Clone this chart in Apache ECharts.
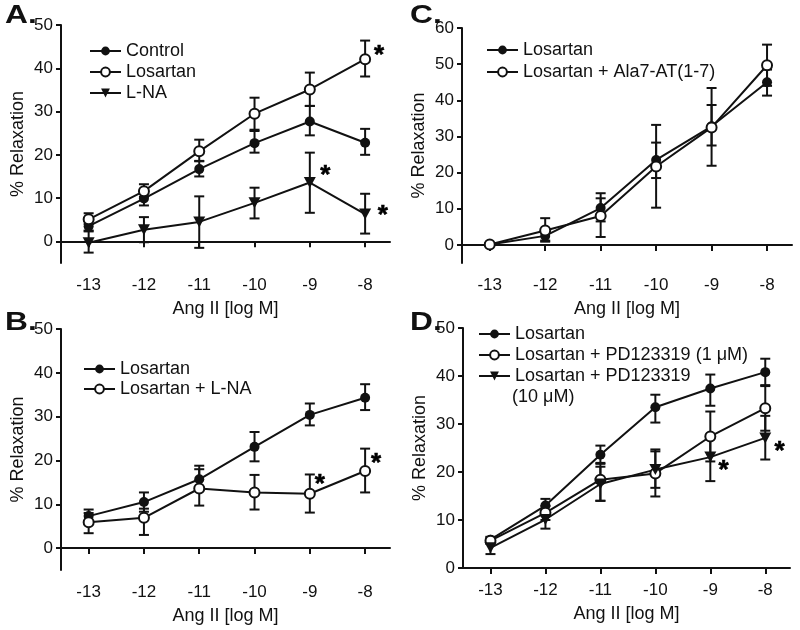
<!DOCTYPE html>
<html><head><meta charset="utf-8">
<script src="https://cdn.jsdelivr.net/npm/echarts@6/dist/echarts.min.js"></script>
<style>html,body{margin:0;padding:0;background:#fff}#c{width:800px;height:630px}</style>
</head><body><div id="c"></div>
<script>
const xs = [-13, -12, -11, -10, -9, -8];
const xTicks = [-13, -12, -11, -10, -9, -8];
const yTicksA = [0, 10, 20, 30, 40, 50];
const yTicksB = [0, 10, 20, 30, 40, 50];
const yTicksC = [0, 10, 20, 30, 40, 50, 60];
const yTicksD = [0, 10, 20, 30, 40, 50];

// Panel A
const A_control = [3.5, 9.9, 16.7, 22.7, 27.7, 22.8];
const A_control_lo = [2.5, 8.3, 15.0, 20.5, 24.5, 20.0];
const A_control_hi = [4.8, 11.5, 18.6, 25.5, 31.3, 26.0];
const A_losartan = [5.1, 11.6, 20.8, 29.5, 35.1, 42.1];
const A_losartan_lo = [4.0, 10.3, 18.5, 25.8, 31.3, 38.1];
const A_losartan_hi = [6.5, 13.2, 23.5, 33.2, 39.0, 46.4];
const A_lna = [-0.3, 2.7, 4.5, 8.9, 13.6, 6.3];
const A_lna_lo = [-2.6, -0.2, -1.5, 5.3, 6.6, 1.8];
const A_lna_hi = [2.3, 5.6, 10.4, 12.4, 20.5, 11.0];
const A_stars = [[-7.75, 44.2], [-8.72, 16.6], [-7.68, 7.4]];

// Panel B
const B_losartan = [7.3, 10.5, 15.7, 23.1, 30.4, 34.3];
const B_losartan_lo = [6.0, 8.3, 13.2, 19.8, 28.0, 31.5];
const B_losartan_hi = [8.8, 12.7, 18.8, 26.5, 33.0, 37.4];
const B_lna = [5.9, 6.9, 13.6, 12.7, 12.4, 17.6];
const B_lna_lo = [3.4, 3.0, 9.7, 8.8, 8.1, 12.7];
const B_lna_hi = [8.0, 9.0, 18.0, 16.7, 16.8, 22.7];
const B_stars = [[-8.82, 15.7], [-7.8, 20.7]];

// Panel C
const C_losartan = [0.1, 2.5, 10.2, 23.5, 32.8, 45.0];
const C_losartan_lo = [-0.3, 0.9, 6.5, 18.5, 27.5, 41.3];
const C_losartan_hi = [0.5, 4.0, 14.3, 28.3, 38.7, 48.5];
const C_ala = [0.1, 4.0, 8.0, 21.7, 32.5, 49.7];
const C_ala_lo = [-0.3, 1.2, 2.2, 10.3, 21.9, 44.0];
const C_ala_hi = [0.5, 7.4, 12.9, 33.2, 43.4, 55.4];

// Panel D
const D_losartan = [5.9, 13.0, 23.6, 33.5, 37.4, 40.8];
const D_losartan_lo = [5.2, 11.8, 21.7, 30.3, 33.8, 38.1];
const D_losartan_hi = [6.5, 14.4, 25.5, 36.1, 40.3, 43.6];
const D_pd1 = [5.7, 11.5, 18.4, 19.7, 27.4, 33.3];
const D_pd1_lo = [5.0, 10.0, 14.0, 14.9, 22.2, 28.6];
const D_pd1_hi = [6.4, 12.9, 21.9, 24.7, 32.6, 37.9];
const D_pd10 = [4.2, 10.1, 17.5, 20.5, 23.1, 27.1];
const D_pd10_lo = [2.9, 8.2, 14.0, 16.7, 18.1, 22.6];
const D_pd10_hi = [5.5, 11.6, 21.1, 24.3, 27.8, 31.7];
const D_stars = [[-8.76, 21.5], [-7.74, 25.4]];

const INK = '#111';
const FONT = 'Liberation Sans, Arial, Helvetica, sans-serif';

function pts(vals) { return xs.map((x, i) => [x, vals[i]]); }
function errData(lo, hi) { return xs.map((x, i) => [x, lo[i], hi[i]]); }

function lineSeries(name, idx, vals, kind) {
  return {
    type: 'line', name: name, xAxisIndex: idx, yAxisIndex: idx,
    data: pts(vals), symbol: kind === 'tri' ? 'path://M0,0 L10,0 L5,9 Z' : 'circle',
    symbolSize: kind === 'tri' ? [12, 11] : 10,
    showAllSymbol: true, z: 5,
    lineStyle: { color: INK, width: 2 },
    itemStyle: { color: kind === 'open' ? '#fff' : INK, borderColor: INK, borderWidth: kind === 'open' ? 2 : 0 },
    emphasis: { disabled: true }, animation: false
  };
}
let errCount = 0;
function errSeries(idx, lo, hi) {
  errCount++;
  return {
    type: 'custom', name: 'err-' + errCount, xAxisIndex: idx, yAxisIndex: idx,
    data: errData(lo, hi), z: 4, animation: false, silent: true,
    encode: { x: 0, y: [1, 2] },
    renderItem: function (params, api) {
      const x = api.value(0);
      const p1 = api.coord([x, api.value(1)]);
      const p2 = api.coord([x, api.value(2)]);
      const w = 5, st = { stroke: INK, lineWidth: 2 };
      return { type: 'group', children: [
        { type: 'line', shape: { x1: p1[0], y1: p1[1], x2: p2[0], y2: p2[1] }, style: st },
        { type: 'line', shape: { x1: p1[0] - w, y1: p1[1], x2: p1[0] + w, y2: p1[1] }, style: st },
        { type: 'line', shape: { x1: p2[0] - w, y1: p2[1], x2: p2[0] + w, y2: p2[1] }, style: st }
      ]};
    }
  };
}
function starSeries(idx, stars) {
  return {
    type: 'scatter', name: 'stars-' + idx, xAxisIndex: idx, yAxisIndex: idx,
    data: stars, symbol: 'circle', symbolSize: 1, itemStyle: { color: 'rgba(0,0,0,0)' }, silent: true, z: 6, animation: false,
    label: { show: true, position: 'inside', formatter: '*', fontSize: 26, fontWeight: 'bold', opacity: 1,
      color: '#000', textBorderColor: '#000', textBorderWidth: 0.6, fontFamily: FONT, offset: [0, 6] }
  };
}
function xAxis(idx) {
  return {
    type: 'value', gridIndex: idx, min: -13.5, max: -7.55,
    name: 'Ang II [log M]', nameLocation: 'middle', nameGap: 37,
    nameTextStyle: { fontSize: 18, color: INK, fontFamily: FONT },
    axisLine: { show: true, lineStyle: { color: INK, width: 2 } },
    axisTick: { show: true, customValues: xTicks, length: 6, lineStyle: { color: INK, width: 2 } },
    axisLabel: { customValues: xTicks, fontSize: 17, color: INK, fontFamily: FONT, margin: 14 },
    splitLine: { show: false }
  };
}
function yAxis(idx, min, max, ticks) {
  return {
    type: 'value', gridIndex: idx, min: min, max: max,
    name: '% Relaxation', nameLocation: 'middle', nameGap: 34, nameRotate: 90,
    nameTextStyle: { fontSize: 18, color: INK, fontFamily: FONT },
    axisLine: { show: true, lineStyle: { color: INK, width: 2 } },
    axisTick: { show: true, customValues: ticks, length: 5, lineStyle: { color: INK, width: 2 } },
    axisLabel: { customValues: ticks, fontSize: 17, color: INK, fontFamily: FONT, margin: 8 },
    splitLine: { show: false }
  };
}
function legend(names, left, top, gap) {
  return {
    data: names, orient: 'vertical', left: left, top: top, itemGap: gap, padding: 0,
    itemWidth: 31, itemHeight: 11, selectedMode: false,
    textStyle: { fontSize: 18, color: INK, fontFamily: FONT }
  };
}

const nA = ['Control', 'Losartan', 'L-NA'];
const nB = ['Losartan ', 'Losartan + L-NA'];
const nC = ['Losartan  ', 'Losartan + Ala7-AT(1-7)'];
const nD = ['Losartan   ', 'Losartan + PD123319 (1 \u03bcM)', 'Losartan + PD123319'];

function letter(t, x, y) {
  return { type: 'text', x: x, y: y, scaleX: 1.22, style: { text: t, fontSize: 26, fontWeight: 'bold', fill: INK, fontFamily: FONT } };
}

const option = {
  backgroundColor: '#fff',
  animation: false,
  grid: [
    { left: 61, top: 25, width: 329, height: 238 },
    { left: 61, top: 329, width: 329, height: 241 },
    { left: 462, top: 28, width: 330, height: 235 },
    { left: 463, top: 328, width: 327, height: 240 }
  ],
  xAxis: [xAxis(0), xAxis(1), xAxis(2), xAxis(3)],
  yAxis: [yAxis(0, -5, 50, yTicksA), yAxis(1, -5, 50, yTicksB), yAxis(2, -5, 60, yTicksC), yAxis(3, 0, 50, yTicksD)],
  legend: [
    legend(nA, 89, 42, 3),
    legend(nB, 83, 360, 2),
    legend(nC, 486, 41, 4),
    legend(nD, 478, 325, 3)
  ],
  graphic: [
    letter('A.', 5, 3),
    letter('B.', 5, 310),
    letter('C.', 410, 3),
    letter('D.', 410, 310),
    { type: 'text', left: 512, top: 388, style: { text: '(10 \u03bcM)', fontSize: 18, fill: INK, fontFamily: FONT } }
  ],
  series: [
    errSeries(0, A_control_lo, A_control_hi), errSeries(0, A_losartan_lo, A_losartan_hi), errSeries(0, A_lna_lo, A_lna_hi),
    lineSeries(nA[0], 0, A_control, 'fill'), lineSeries(nA[1], 0, A_losartan, 'open'), lineSeries(nA[2], 0, A_lna, 'tri'),
    starSeries(0, A_stars),
    errSeries(1, B_losartan_lo, B_losartan_hi), errSeries(1, B_lna_lo, B_lna_hi),
    lineSeries(nB[0], 1, B_losartan, 'fill'), lineSeries(nB[1], 1, B_lna, 'open'),
    starSeries(1, B_stars),
    errSeries(2, C_losartan_lo, C_losartan_hi), errSeries(2, C_ala_lo, C_ala_hi),
    lineSeries(nC[0], 2, C_losartan, 'fill'), lineSeries(nC[1], 2, C_ala, 'open'),
    errSeries(3, D_losartan_lo, D_losartan_hi), errSeries(3, D_pd1_lo, D_pd1_hi), errSeries(3, D_pd10_lo, D_pd10_hi),
    lineSeries(nD[0], 3, D_losartan, 'fill'), lineSeries(nD[1], 3, D_pd1, 'open'), lineSeries(nD[2], 3, D_pd10, 'tri'),
    starSeries(3, D_stars)
  ]
};
const chart = echarts.init(document.getElementById('c'), null, { renderer: 'canvas' });
chart.setOption(option);
</script>
</body></html>
